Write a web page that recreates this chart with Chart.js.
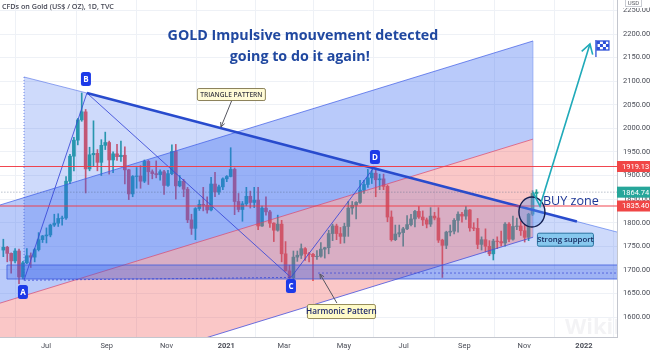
<!DOCTYPE html>
<html><head><meta charset="utf-8">
<script src="https://cdn.jsdelivr.net/npm/chart.js@4.4.1/dist/chart.umd.min.js"></script>
<style>html,body{margin:0;padding:0;background:#fff;overflow:hidden}canvas{display:block}</style>
</head><body>
<canvas id="c" width="664" height="356"></canvas>
<script>
// ---- DATA (days counted from 2020-07-01; one candle per 4 calendar days) ----
const startDay = -45;
const candleDays = 4;
const opens  = [1742,1748,1735,1719,1740,1685,1715,1730,1727,1743,1764,1772,1774,1795,1799,1809,1810,1888,1941,1975,2018,2035,1914,1944,1947,1928,1964,1970,1933,1946,1940,1943,1912,1861,1898,1899,1888,1930,1908,1904,1902,1908,1879,1904,1951,1878,1888,1871,1806,1788,1830,1839,1837,1827,1882,1865,1876,1893,1898,1913,1845,1828,1840,1856,1843,1848,1793,1831,1823,1799,1784,1797,1734,1698,1683,1727,1731,1745,1734,1733,1728,1729,1744,1747,1777,1793,1777,1771,1792,1831,1837,1843,1869,1881,1895,1905,1891,1893,1877,1812,1764,1776,1779,1787,1796,1808,1824,1812,1806,1797,1814,1810,1763,1752,1780,1782,1805,1818,1814,1827,1789,1788,1754,1764,1750,1734,1761,1760,1757,1797,1765,1792,1793,1783,1769,1818,1862];
const highs  = [1765,1750,1736,1745,1744,1718,1745,1736,1746,1779,1773,1789,1797,1818,1819,1814,1898,1945,1981,2021,2075,2040,1960,2016,1955,1976,1992,1973,1950,1966,1973,1961,1913,1900,1917,1921,1933,1932,1912,1931,1912,1911,1911,1965,1966,1900,1892,1875,1818,1832,1848,1875,1855,1896,1907,1880,1895,1900,1959,1916,1862,1845,1875,1867,1875,1875,1835,1855,1826,1800,1816,1805,1760,1710,1740,1740,1755,1747,1737,1735,1741,1758,1748,1784,1797,1797,1790,1799,1845,1845,1845,1890,1890,1913,1912,1916,1903,1903,1880,1825,1795,1795,1790,1815,1818,1826,1834,1825,1810,1832,1822,1832,1765,1782,1795,1809,1823,1822,1834,1828,1800,1809,1770,1787,1762,1765,1770,1782,1800,1800,1814,1810,1803,1796,1820,1868,1870];
const lows   = [1728,1717,1693,1715,1671,1681,1713,1705,1717,1740,1758,1757,1770,1792,1792,1795,1807,1883,1910,1965,2015,1863,1910,1920,1910,1900,1955,1903,1906,1932,1930,1882,1849,1855,1873,1873,1885,1881,1893,1895,1890,1860,1877,1902,1850,1876,1855,1800,1775,1764,1826,1825,1820,1825,1855,1860,1870,1887,1897,1817,1823,1803,1836,1831,1832,1785,1792,1816,1790,1760,1782,1717,1697,1676,1680,1718,1724,1720,1717,1677,1722,1727,1725,1734,1762,1764,1756,1757,1771,1818,1808,1841,1862,1875,1883,1855,1870,1870,1802,1761,1762,1770,1750,1785,1793,1791,1809,1794,1789,1792,1806,1758,1684,1745,1772,1776,1780,1801,1807,1782,1783,1745,1742,1738,1730,1721,1745,1751,1750,1760,1763,1785,1773,1759,1762,1815,1853];
const closes = [1748,1735,1719,1740,1685,1715,1730,1727,1743,1764,1772,1774,1795,1799,1809,1810,1888,1941,1975,2018,2035,1914,1944,1947,1928,1964,1970,1933,1946,1940,1943,1912,1861,1898,1899,1888,1930,1908,1904,1902,1908,1879,1904,1951,1878,1888,1871,1806,1788,1830,1839,1837,1827,1882,1865,1876,1893,1898,1913,1845,1828,1840,1856,1843,1848,1793,1831,1823,1799,1784,1797,1734,1698,1683,1727,1731,1745,1734,1733,1728,1729,1744,1747,1777,1793,1777,1771,1792,1831,1837,1843,1869,1881,1895,1905,1891,1893,1877,1812,1764,1776,1779,1787,1796,1808,1824,1812,1806,1797,1814,1810,1763,1752,1780,1782,1805,1818,1814,1827,1789,1788,1754,1764,1750,1734,1761,1760,1757,1797,1765,1792,1793,1783,1769,1818,1862,1864.74];
const priceTicks = [1600,1650,1700,1750,1800,1850,1900,1950,2000,2050,2100,2150,2200,2250];
const timeTickDays = [0,62,123,184,243,304,365,427,488,549];
const timeTickLabels = ['Jul','Sep','Nov','2021','Mar','May','Jul','Sep','Nov','2022'];
const redLevels = [1919.13, 1835.40];
const lastPrice = 1864.74;

// ---- drawing geometry in (day, price) ----
const chStart = [-46.9, 1837.5], chEnd = [497, 2185.2], chHalf = 208;
const trianglePts = [[-22.4,2108.9],[41.8,2074.9],[600,1770.8],[600,1680.6],[-22.4,1680.6]];
const trendThick = [[41.8,2074.9],[541.8,1802.5]];
const trendThin = [[541.8,1802.5],[600,1770.8]];
const supportBox = {d0:-39.8, d1:600, p0:1680.6, p1:1710.3};
const harmonicPts = [[-22.4,1678],[41.8,2074.9],[250,1684],[334,1915]];
const pointLabels = [['A',-23.5,1653],['B',40.8,2104.6],['C',250,1665.8],['D',335.7,1939.3]];
const arrowPts = [[496.9,1865],[504.1,1835.4],[555.1,2178.8]];

const GREEN = '#26a69a', RED = '#ef5350';
const candleX = opens.map((_, i) => startDay + i * candleDays + 1.5);
const colors = opens.map((o, i) => closes[i] >= o ? GREEN : RED);

function rr(ctx, x, y, w, h, r) {
  ctx.beginPath(); ctx.moveTo(x + r, y);
  ctx.arcTo(x + w, y, x + w, y + h, r); ctx.arcTo(x + w, y + h, x, y + h, r);
  ctx.arcTo(x, y + h, x, y, r); ctx.arcTo(x, y, x + w, y, r); ctx.closePath();
}
function fitFont(ctx, text, weight, family, base, width) {
  ctx.font = weight + ' ' + base + 'px ' + family;
  const s = base * width / ctx.measureText(text).width;
  return weight + ' ' + s.toFixed(2) + 'px ' + family;
}

const overlay = {
  id: 'overlay',
  afterDraw(chart) {
    const { ctx, chartArea: ca, scales: { x, y } } = chart;
    const X = d => x.getPixelForValue(d), Y = p => y.getPixelForValue(p);
    const chP = d => chStart[1] + (d - chStart[0]) * (chEnd[1] - chStart[1]) / (chEnd[0] - chStart[0]);
    const path = (pts, close) => { ctx.beginPath(); pts.forEach((p, i) => { const a = X(p[0]), b = Y(p[1]); i ? ctx.lineTo(a, b) : ctx.moveTo(a, b); }); if (close) ctx.closePath(); };
    const fill = (pts, c) => { path(pts, true); ctx.fillStyle = c; ctx.fill(); };
    const stroke = (pts, c, lw, dash) => { path(pts, false); ctx.strokeStyle = c; ctx.lineWidth = lw; ctx.setLineDash(dash || []); ctx.stroke(); ctx.setLineDash([]); };
    const OS = '"Open Sans", sans-serif';

    ctx.save();
    ctx.beginPath(); ctx.rect(ca.left, ca.top, ca.right - ca.left, ca.bottom - ca.top); ctx.clip();

    fill(trianglePts, 'rgba(50,100,240,0.24)');
    const L = -70, R = chEnd[0];
    fill([[L, chP(L)], [R, chP(R)], [R, chP(R) - chHalf], [L, chP(L) - chHalf]], 'rgba(50,100,240,0.34)');
    fill([[L, chP(L) - chHalf], [R, chP(R) - chHalf], [R, chP(R) - 2 * chHalf], [L, chP(L) - 2 * chHalf]], 'rgba(240,80,80,0.32)');
    stroke([[L, chP(L)], [R, chP(R)]], 'rgba(60,90,230,0.7)', 1);
    stroke([[L, chP(L) - chHalf], [R, chP(R) - chHalf]], 'rgba(215,70,110,0.7)', 1);
    stroke([[L, chP(L) - 2 * chHalf], [R, chP(R) - 2 * chHalf]], 'rgba(70,80,220,0.8)', 1);
    stroke([[R, chP(R)], [R, chP(R) - 2 * chHalf]], 'rgba(110,140,240,0.5)', 1);
    const sb = supportBox;
    fill([[sb.d0, sb.p0], [sb.d1, sb.p0], [sb.d1, sb.p1], [sb.d0, sb.p1]], 'rgba(50,90,230,0.3)');
    stroke([[sb.d1, sb.p1], [sb.d0, sb.p1], [sb.d0, sb.p0], [sb.d1, sb.p0]], 'rgba(60,90,220,0.8)', 1);
    stroke([[trianglePts[0][0], trianglePts[0][1]], [trianglePts[1][0], trianglePts[1][1]]], 'rgba(80,110,230,0.6)', 1);
    stroke([[trianglePts[0][0], trianglePts[0][1]], [trianglePts[4][0], 1678]], 'rgba(60,90,220,0.7)', 1, [1, 2]);
    stroke(trendThin, 'rgba(70,110,235,0.6)', 1);
    stroke(harmonicPts, 'rgba(55,70,215,0.85)', 1);
    stroke([harmonicPts[0], harmonicPts[2]], 'rgba(55,70,215,0.8)', 1, [2, 2]);
    stroke([[277.6, 1693.3], [600, 1693.3]], 'rgba(55,70,215,0.7)', 1, [2, 2]);
    stroke(trendThick, 'rgb(40,75,205)', 2.5);
    redLevels.forEach(p => stroke([[-70, p], [600, p]], 'rgba(240,60,70,0.95)', 1.2));
    stroke([[-70, lastPrice], [600, lastPrice]], 'rgba(80,100,130,0.6)', 1, [1, 2]);

    const leader = (a, b) => {
      stroke([a, b], 'rgb(85,85,95)', 1);
      const x1 = X(a[0]), y1 = Y(a[1]), x2 = X(b[0]), y2 = Y(b[1]);
      const ang = Math.atan2(y2 - y1, x2 - x1);
      ctx.beginPath();
      ctx.moveTo(x2 - 5 * Math.cos(ang - 0.45), y2 - 5 * Math.sin(ang - 0.45));
      ctx.lineTo(x2, y2);
      ctx.lineTo(x2 - 5 * Math.cos(ang + 0.45), y2 - 5 * Math.sin(ang + 0.45));
      ctx.strokeStyle = 'rgb(85,85,95)'; ctx.stroke();
    };
    leader([189.8, 2060.1], [178.6, 2002.9]);
    leader([296.9, 1629.7], [279.6, 1691.2]);

    const box = (d, p, w, h, text, font, fillC, border, txtC) => {
      const bx = X(d), by = Y(p);
      rr(ctx, bx + 0.5, by + 0.5, w, h, 1.5);
      ctx.fillStyle = fillC; ctx.fill(); ctx.strokeStyle = border; ctx.lineWidth = 1; ctx.stroke();
      ctx.fillStyle = txtC; ctx.font = font; ctx.textAlign = 'center'; ctx.textBaseline = 'middle';
      ctx.fillText(text, bx + w / 2 + 0.5, by + h / 2 + 1);
    };
    box(154, 2085.5, 68, 12, 'TRIANGLE PATTERN', '600 6.6px ' + OS, 'rgb(255,251,214)', 'rgb(140,130,90)', 'rgb(60,60,70)');
    box(266.3, 1627.6, 68, 14, 'Harmonic Pattern', '600 8.2px ' + OS, 'rgb(255,251,200)', 'rgb(150,140,90)', 'rgb(30,40,110)');

    pointLabels.forEach(([t, d, p]) => {
      const cx = X(d), cy = Y(p);
      rr(ctx, cx - 5, cy - 7, 10, 14, 2.5);
      ctx.fillStyle = 'rgb(28,58,232)'; ctx.fill();
      ctx.fillStyle = '#fff'; ctx.font = 'bold 8px ' + OS; ctx.textAlign = 'center'; ctx.textBaseline = 'middle';
      ctx.fillText(t, cx, cy + 0.5);
    });

    ctx.beginPath(); ctx.ellipse(X(495.9), Y(1822.7), 13, 15, 0, 0, Math.PI * 2);
    ctx.fillStyle = 'rgba(90,150,240,0.35)'; ctx.fill();
    ctx.strokeStyle = 'rgb(20,30,80)'; ctx.lineWidth = 1.4; ctx.stroke();

    stroke(arrowPts, 'rgb(32,170,185)', 1.6);
    {
      const a = arrowPts[1], b = arrowPts[2];
      const x1 = X(a[0]), y1 = Y(a[1]), x2 = X(b[0]), y2 = Y(b[1]);
      const ang = Math.atan2(y2 - y1, x2 - x1);
      ctx.beginPath();
      ctx.moveTo(x2 - 11 * Math.cos(ang - 0.55), y2 - 11 * Math.sin(ang - 0.55));
      ctx.lineTo(x2, y2);
      ctx.lineTo(x2 - 11 * Math.cos(ang + 0.55), y2 - 11 * Math.sin(ang + 0.55));
      ctx.strokeStyle = 'rgb(32,170,185)'; ctx.lineWidth = 1.6; ctx.stroke();
    }
    {
      const fx = X(561.2), fy = Y(2185.2);
      ctx.strokeStyle = 'rgb(45,80,215)'; ctx.lineWidth = 1.3;
      ctx.beginPath(); ctx.moveTo(fx, fy - 1); ctx.lineTo(fx, fy + 16); ctx.stroke();
      ctx.fillStyle = '#fff'; ctx.fillRect(fx + 1, fy, 12, 9);
      ctx.fillStyle = 'rgb(45,80,215)';
      for (let r = 0; r < 3; r++) for (let c = 0; c < 4; c++) if ((r + c) % 2 === 0) ctx.fillRect(fx + 1 + c * 3, fy + r * 3, 3, 3);
      ctx.strokeRect(fx + 1, fy, 12, 9);
    }

    ctx.fillStyle = 'rgb(30,55,150)';
    ctx.font = fitFont(ctx, 'BUY zone', '500', OS, 12, 56);
    ctx.textAlign = 'left'; ctx.textBaseline = 'middle';
    ctx.fillText('BUY zone', X(507.1), Y(1846));
    box(501, 1778.8, 56, 13, 'Strong support', '600 7.8px ' + OS, 'rgb(135,200,238)', 'rgb(40,115,160)', 'rgb(20,35,90)');

    ctx.fillStyle = 'rgb(32,72,160)';
    ctx.font = fitFont(ctx, 'GOLD Impulsive mouvement detected', '700', OS, 16, 271);
    ctx.textAlign = 'center'; ctx.textBaseline = 'middle';
    ctx.fillText('GOLD Impulsive mouvement detected', X(262.2), Y(2195.8));
    ctx.fillText('going to do it again!', X(259), Y(2151.3));

    ctx.fillStyle = 'rgb(70,72,85)';
    ctx.font = fitFont(ctx, 'CFDs on Gold (US$ / OZ), 1D, TVC', '600', OS, 8, 112);
    ctx.textAlign = 'left';
    ctx.fillText('CFDs on Gold (US$ / OZ), 1D, TVC', X(-44.9), Y(2257.3));

    ctx.fillStyle = 'rgba(190,190,200,0.18)';
    ctx.font = 'bold 22px ' + OS;
    ctx.fillText('WikiFX', X(529.6), Y(1576.7));
    ctx.restore();

    const tag = (p, c) => {
      const yy = Y(p);
      ctx.fillStyle = c; ctx.fillRect(ca.right, yy - 5.5, 33, 11);
      ctx.fillStyle = '#fff'; ctx.font = '7.5px Roboto'; ctx.textAlign = 'left'; ctx.textBaseline = 'middle';
      ctx.fillText(p.toFixed(2), ca.right + 5, yy + 0.5);
    };
    tag(redLevels[0], 'rgb(240,70,70)');
    tag(lastPrice, 'rgb(38,166,154)');
    tag(redLevels[1], 'rgb(240,70,70)');
    ctx.fillStyle = '#fff'; ctx.fillRect(ca.right + 4, 0, 28, 8);
    ctx.strokeStyle = 'rgb(200,203,210)'; ctx.lineWidth = 1; ctx.strokeRect(ca.right + 8.5, -1, 16, 7.5);
    ctx.fillStyle = 'rgb(90,92,100)'; ctx.font = '6px Roboto'; ctx.textAlign = 'center';
    ctx.fillText('USD', ca.right + 16.5, 3);
  }
};

new Chart(document.getElementById('c'), {
  type: 'bar',
  data: {
    datasets: [
      { data: candleX.map((d, i) => ({ x: d, y: [lows[i], highs[i]] })), backgroundColor: colors, barThickness: 1, grouped: false, order: 2 },
      { data: candleX.map((d, i) => ({ x: d, y: [opens[i], closes[i]] })), backgroundColor: colors, barThickness: 3, grouped: false, order: 1 }
    ]
  },
  options: {
    responsive: false, devicePixelRatio: 1, animation: false,
    layout: { padding: 0 },
    plugins: { legend: { display: false }, tooltip: { enabled: false } },
    scales: {
      x: {
        type: 'linear', min: -46.9, max: 582.7, offset: false,
        grid: { color: '#eef1f6', drawTicks: false },
        border: { color: '#c3c6ce' },
        afterBuildTicks: s => { s.ticks = timeTickDays.map(v => ({ value: v })); },
        afterFit: s => { s.height = 19; s.paddingLeft = 0; s.paddingRight = 0; },
        ticks: {
          autoSkip: false, maxRotation: 0, padding: 5, color: '#4a4d57',
          font: c => ({ family: 'Roboto', size: 7.5, weight: /^20/.test(timeTickLabels[c.index]) ? 'bold' : 'normal' }),
          callback: (v, i) => timeTickLabels[i]
        }
      },
      y: {
        position: 'right', min: 1557.7, max: 2272.1,
        grid: { color: '#eef1f6', drawTicks: false },
        border: { color: '#c3c6ce' },
        afterBuildTicks: s => { s.ticks = priceTicks.map(v => ({ value: v })); },
        afterFit: s => { s.width = 47; s.paddingTop = 0; s.paddingBottom = 0; },
        ticks: { padding: 6, color: '#4a4d57', font: { family: 'Roboto', size: 7.5 }, callback: v => Number(v).toFixed(2) }
      }
    }
  },
  plugins: [overlay]
});
</script>
</body></html>
